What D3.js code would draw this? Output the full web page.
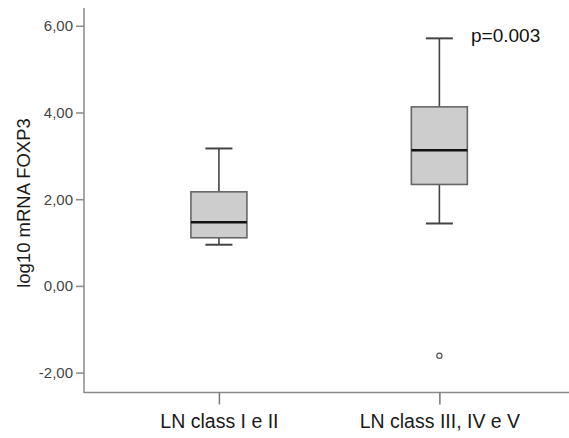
<!DOCTYPE html>
<html><head><meta charset="utf-8">
<script src="https://cdn.jsdelivr.net/npm/d3@7"></script>
<style>body{margin:0;background:#fff;} svg{display:block;font-family:"Liberation Sans",Arial,sans-serif;}</style>
</head><body>
<svg id="c" width="569" height="438"></svg>
<script>
const categories = ["LN class I e II", "LN class III, IV e V"];
const whiskerLow  = [0.95, 1.44];
const q1          = [1.11, 2.34];
const median      = [1.47, 3.13];
const q3          = [2.17, 4.13];
const whiskerHigh = [3.17, 5.71];
const outliers    = [[], [-1.61]];
const yTicks      = [-2, 0, 2, 4, 6];
const annotation  = "p=0.003";

(function () {
const svg = d3.select("#c");
const pl = 84, pr = 569, pt = 8, pb = 393;
const y = d3.scaleLinear().domain([-2.47, 6.41]).range([pb, pt]);
const x = d3.scalePoint().domain(categories).range([pl, pr]).padding(0.6).align(0.51);
const fmt = d => d3.format(".2f")(d).replace(".", ",").replace("\u2212", "-");

// y axis
const ya = svg.append("g").attr("transform", `translate(${pl},0)`)
  .call(d3.axisLeft(y).tickValues(yTicks).tickFormat(fmt).tickSize(8).tickSizeOuter(0).tickPadding(3));
ya.select(".domain").attr("stroke", "#8a8a8a").attr("stroke-width", 1.5).attr("d", `M0,${pt}V${pb}`);
ya.selectAll(".tick line").attr("stroke", "#8a8a8a").attr("stroke-width", 1.5);
ya.selectAll(".tick text").attr("fill", "#444").style("font-size", "15px").style("font-family", "Liberation Sans, Arial, sans-serif");

// x axis
const xa = svg.append("g").attr("transform", `translate(0,${pb - 0.5})`)
  .call(d3.axisBottom(x).tickSize(12).tickSizeOuter(0).tickPadding(10));
xa.select(".domain").attr("stroke", "#8a8a8a").attr("stroke-width", 1.5).attr("d", `M${pl},0H${pr}`);
xa.selectAll(".tick line").attr("stroke", "#777").attr("stroke-width", 1.5);
xa.selectAll(".tick text").attr("fill", "#1a1a1a").style("font-size", "19.5px").style("font-family", "Liberation Sans, Arial, sans-serif");

// y title
svg.append("text").attr("transform", `translate(30,203) rotate(-90)`)
  .attr("text-anchor", "middle").attr("fill", "#1a1a1a").style("font-size", "18.5px")
  .text("log10 mRNA FOXP3");

const boxW = 56, capW = 27;
const g = svg.append("g");
categories.forEach((c, i) => {
  const cx = x(c);
  g.append("line").attr("x1", cx).attr("x2", cx).attr("y1", y(whiskerHigh[i])).attr("y2", y(q3[i]))
    .attr("stroke", "#444").attr("stroke-width", 1.6);
  g.append("line").attr("x1", cx).attr("x2", cx).attr("y1", y(q1[i])).attr("y2", y(whiskerLow[i]))
    .attr("stroke", "#444").attr("stroke-width", 1.6);
  [whiskerHigh[i], whiskerLow[i]].forEach(v => {
    g.append("line").attr("x1", cx - capW / 2).attr("x2", cx + capW / 2).attr("y1", y(v)).attr("y2", y(v))
      .attr("stroke", "#444").attr("stroke-width", 2);
  });
  g.append("rect").attr("x", cx - boxW / 2).attr("width", boxW)
    .attr("y", y(q3[i])).attr("height", y(q1[i]) - y(q3[i]))
    .attr("fill", "#cdcdcd").attr("stroke", "#666").attr("stroke-width", 1.6);
  g.append("line").attr("x1", cx - boxW / 2).attr("x2", cx + boxW / 2).attr("y1", y(median[i])).attr("y2", y(median[i]))
    .attr("stroke", "#111").attr("stroke-width", 2.6);
  outliers[i].forEach(v => {
    g.append("circle").attr("cx", cx).attr("cy", y(v)).attr("r", 2.6)
      .attr("fill", "#fff").attr("stroke", "#555").attr("stroke-width", 1.2);
  });
});

svg.append("text").attr("x", 471).attr("y", 42).attr("fill", "#111").style("font-size", "19px").text(annotation);
})();
</script>
</body></html>
